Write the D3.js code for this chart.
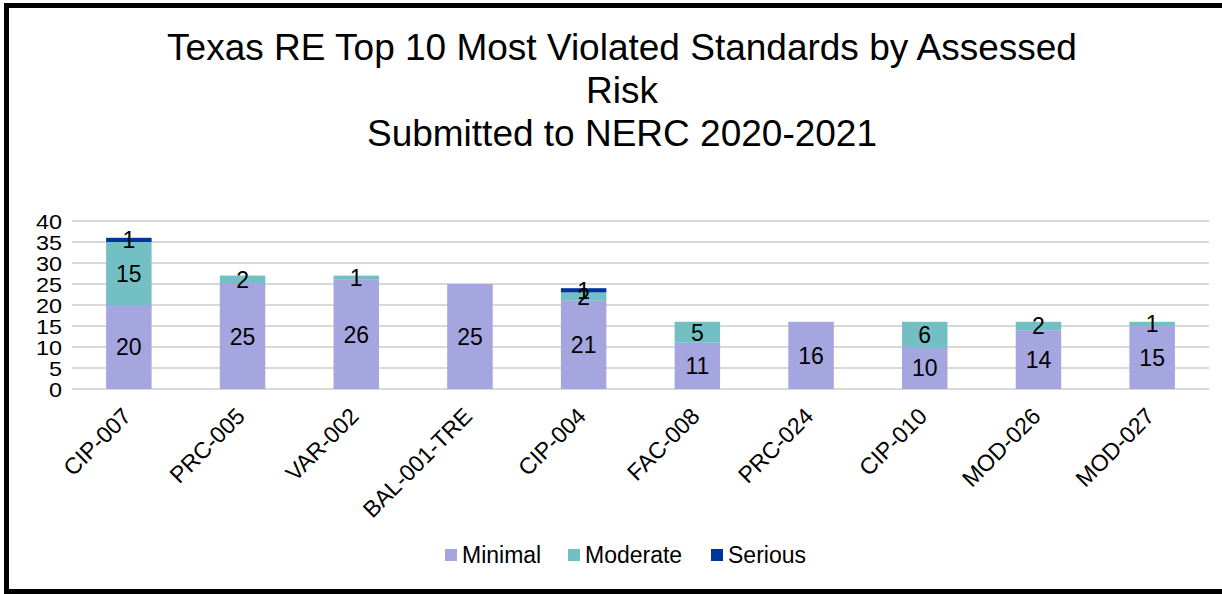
<!DOCTYPE html>
<html><head><meta charset="utf-8">
<script src="https://cdn.jsdelivr.net/npm/d3@7"></script>
<style>html,body{margin:0;padding:0;background:#fff;}svg{display:block;font-family:"Liberation Sans",Arial,sans-serif;}</style>
</head><body>
<svg id="chart" width="1222" height="594"></svg>
<script>
const categories = ["CIP-007","PRC-005","VAR-002","BAL-001-TRE","CIP-004","FAC-008","PRC-024","CIP-010","MOD-026","MOD-027"];
const minimal  = [20,25,26,25,21,11,16,10,14,15];
const moderate = [15,2,1,0,2,5,0,6,2,1];
const serious  = [1,0,0,0,1,0,0,0,0,0];
const seriesNames = ["Minimal","Moderate","Serious"];
const yTicks = [0,5,10,15,20,25,30,35,40];
const titleLines = ["Texas RE Top 10 Most Violated Standards by Assessed","Risk","Submitted to NERC 2020-2021"];
const colors = {Minimal:"#A5A5DF", Moderate:"#73C0C4", Serious:"#00349A"};

const svg = d3.select("#chart");
const FONT = "Liberation Sans, Arial, sans-serif";
// frame
svg.append("rect").attr("x",6.5).attr("y",5.5).attr("width",1230).attr("height",586)
  .attr("fill","#fff").attr("stroke","#000").attr("stroke-width",5);

// title
svg.append("g").selectAll("text").data(titleLines).join("text")
  .attr("x",622).attr("y",(d,i)=>60+i*43).attr("text-anchor","middle")
  .attr("font-size",37).attr("fill","#000").text(d=>d);

const x = d3.scaleBand().domain(categories).range([72,1209]).paddingInner(0.6).paddingOuter(0.3);
const y = d3.scaleLinear().domain([0,40]).range([389,221]);

const table = categories.map((c,i)=>({cat:c, Minimal:minimal[i], Moderate:moderate[i], Serious:serious[i]}));
const stacked = d3.stack().keys(seriesNames)(table);

// gridlines
svg.append("g").selectAll("line").data(yTicks).join("line")
  .attr("x1",72).attr("x2",1209).attr("y1",d=>y(d)).attr("y2",d=>y(d))
  .attr("stroke","#d9d9d9").attr("stroke-width",2);

// y axis (slightly horizontally stretched text, like the reference)
const sx = 1.17;
const yAxis = svg.append("g").attr("transform","translate(70,0)")
  .call(d3.axisLeft(y).tickValues(yTicks).tickSize(0).tickPadding(8));
yAxis.select(".domain").remove();
yAxis.selectAll("text").attr("font-size",20).attr("fill","#000").attr("font-family",FONT)
  .attr("dy","0.36em").attr("x",-8/sx).attr("transform",`scale(${sx},1)`);

// bars
const groups = svg.append("g").selectAll("g").data(stacked).join("g").attr("fill",d=>colors[d.key]);
groups.selectAll("rect").data(d=>d).join("rect")
  .attr("x",d=>x(d.data.cat)).attr("width",x.bandwidth())
  .attr("y",d=>y(d[1])).attr("height",d=>y(d[0])-y(d[1]));

// labels
stacked.forEach(s=>{
  svg.append("g").selectAll("text").data(s.filter(d=>d[1]-d[0]>0)).join("text")
    .attr("x",d=>x(d.data.cat)+x.bandwidth()/2)
    .attr("y",d=>(y(d[0])+y(d[1]))/2).attr("dy","0.36em")
    .attr("text-anchor","middle").attr("font-size",23).attr("fill","#000")
    .text(d=>d[1]-d[0]);
});

// x axis labels
const xAxis = svg.append("g").attr("transform","translate(0,392)")
  .call(d3.axisBottom(x).tickSize(0).tickPadding(0));
xAxis.select(".domain").remove();
xAxis.selectAll("text").attr("font-size",23).attr("fill","#000")
  .attr("font-family",FONT)
  .attr("text-anchor","end").attr("dy","0.35em").attr("y",0)
  .attr("transform","translate(-2,20) rotate(-45)");

// legend
const legX = [445,568,711];
const leg = svg.append("g").selectAll("g").data(seriesNames).join("g")
  .attr("transform",(d,i)=>`translate(${legX[i]},555)`);
leg.append("rect").attr("x",0).attr("y",-6).attr("width",12).attr("height",12).attr("fill",d=>colors[d]);
leg.append("text").attr("x",17).attr("y",0).attr("dy","0.36em").attr("font-size",23).attr("fill","#000").text(d=>d);
</script>
</body></html>
